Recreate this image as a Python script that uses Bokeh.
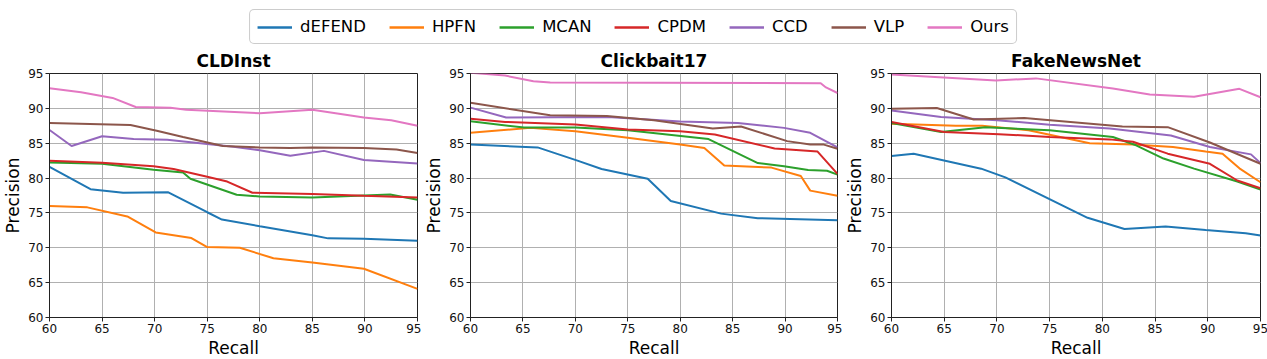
from bokeh.plotting import figure
from bokeh.layouts import column, row
from bokeh.models import Range1d, FixedTicker, Legend, LegendItem
from bokeh.embed import file_html
from bokeh.resources import INLINE

METHODS = ["dEFEND", "HPFN", "MCAN", "CPDM", "CCD", "VLP", "Ours"]
COLORS = ["#1f77b4", "#ff7f0e", "#2ca02c", "#d62728", "#9467bd", "#8c564b", "#e377c2"]
X_TICKS = [60, 65, 70, 75, 80, 85, 90, 95]
Y_TICKS = [60, 65, 70, 75, 80, 85, 90, 95]
TITLES = ["CLDInst", "Clickbait17", "FakeNewsNet"]

# ---- CLDInst ----
CLD_DEFEND_R = [60, 63.9, 67, 71.3, 75, 76.4, 80, 85, 86.5, 89.9, 95]
CLD_DEFEND_P = [81.6, 78.4, 77.9, 77.95, 75.1, 74.05, 73.1, 71.8, 71.35, 71.3, 71.0]
CLD_HPFN_R = [60, 63.6, 67.4, 70.1, 73.5, 75, 78.1, 81.3, 85, 89.9, 95]
CLD_HPFN_P = [76.0, 75.8, 74.5, 72.2, 71.4, 70.1, 70.0, 68.5, 67.9, 67.0, 64.1]
CLD_MCAN_R = [60, 65, 69.9, 72.7, 73.4, 77.8, 80, 85, 89.9, 92.4, 95]
CLD_MCAN_P = [82.25, 82.05, 81.2, 80.8, 79.9, 77.6, 77.35, 77.2, 77.5, 77.65, 76.9]
CLD_CPDM_R = [60, 65, 69.9, 71.8, 75, 76.9, 79.3, 85, 89.9, 95]
CLD_CPDM_P = [82.5, 82.2, 81.7, 81.3, 80.2, 79.5, 77.9, 77.7, 77.45, 77.2]
CLD_CCD_R = [60, 62.1, 65, 68, 71.2, 75, 77.5, 80, 82.9, 86.1, 89.9, 95]
CLD_CCD_P = [86.9, 84.6, 86.0, 85.6, 85.5, 84.9, 84.5, 84.0, 83.2, 83.9, 82.6, 82.1]
CLD_VLP_R = [60, 67.7, 70.2, 72.7, 76.5, 80, 82.9, 85, 89.9, 93, 95]
CLD_VLP_P = [87.9, 87.6, 86.8, 85.9, 84.6, 84.4, 84.3, 84.4, 84.3, 84.1, 83.6]
CLD_OURS_R = [60, 63, 66, 68.2, 71.5, 73, 80, 85, 89.9, 92.5, 95]
CLD_OURS_P = [92.9, 92.3, 91.5, 90.2, 90.1, 89.8, 89.3, 89.8, 88.7, 88.3, 87.5]

# ---- Clickbait17 ----
CB_DEFEND_R = [60, 66.4, 70.2, 72.5, 76.9, 79.1, 83.9, 87.4, 95]
CB_DEFEND_P = [84.8, 84.4, 82.5, 81.3, 79.9, 76.7, 74.9, 74.25, 73.95]
CB_HPFN_R = [60, 65.7, 70, 75, 80, 82.3, 84.2, 88.7, 91.5, 92.4, 95]
CB_HPFN_P = [86.5, 87.2, 86.7, 85.8, 84.8, 84.3, 81.8, 81.5, 80.3, 78.2, 77.45]
CB_MCAN_R = [60, 65.1, 70, 75, 82.7, 87.4, 89.9, 92.2, 94, 95]
CB_MCAN_P = [88.15, 87.25, 87.25, 86.85, 85.6, 82.15, 81.7, 81.15, 81.05, 80.5]
CB_CPDM_R = [60, 63.3, 70, 75, 80, 83.3, 89, 93.1, 95]
CB_CPDM_P = [88.5, 88.05, 87.7, 86.95, 86.7, 86.25, 84.25, 83.8, 80.6]
CB_CCD_R = [60, 63.4, 73.1, 80, 85.5, 89.9, 92.4, 95]
CB_CCD_P = [90.1, 88.7, 88.75, 88.1, 87.9, 87.2, 86.5, 84.4]
CB_VLP_R = [60, 67.6, 73, 77.5, 83.1, 85.8, 90.2, 92.4, 93.7, 95]
CB_VLP_P = [90.8, 89.0, 88.9, 88.3, 87.1, 87.4, 85.3, 84.8, 84.8, 84.2]
CB_OURS_R = [60, 63.3, 66, 67.6, 93.4, 93.9, 95]
CB_OURS_P = [95.1, 94.7, 93.9, 93.7, 93.6, 93.0, 92.2]

# ---- FakeNewsNet ----
FN_DEFEND_R = [60, 62.1, 68.5, 70.8, 78.6, 82.1, 86, 89.8, 93.6, 95]
FN_DEFEND_P = [83.15, 83.5, 81.35, 80.1, 74.3, 72.7, 73.05, 72.55, 72.1, 71.75]
FN_HPFN_R = [60, 66.1, 68.6, 73, 78.8, 82.9, 86.7, 89.8, 91.4, 93, 95]
FN_HPFN_P = [87.8, 87.5, 87.5, 86.85, 85.0, 84.8, 84.45, 83.8, 83.5, 81.4, 79.4]
FN_MCAN_R = [60, 64.7, 68.9, 75, 81, 83.2, 85.8, 88.7, 92.8, 95]
FN_MCAN_P = [87.9, 86.6, 87.3, 86.85, 85.9, 84.7, 82.8, 81.35, 79.5, 78.35]
FN_CPDM_R = [60, 65, 70.2, 75, 80.7, 82.9, 86.2, 90.2, 92.8, 95]
FN_CPDM_P = [88.05, 86.6, 86.3, 85.9, 85.55, 85.2, 83.5, 82.05, 79.65, 78.55]
FN_CCD_R = [60, 64.7, 70, 75, 80.7, 86.5, 90.2, 94.1, 95]
FN_CCD_P = [89.7, 88.75, 88.3, 87.65, 87.1, 86.1, 84.45, 83.4, 82.15]
FN_VLP_R = [60, 64.3, 67.8, 72.6, 81.9, 86.2, 90.2, 95]
FN_VLP_P = [89.95, 90.05, 88.4, 88.6, 87.4, 87.3, 85.1, 82.05]
FN_OURS_R = [60, 69.9, 73.7, 81, 84.5, 88.7, 93, 95]
FN_OURS_P = [94.85, 94.0, 94.3, 92.85, 92.0, 91.65, 92.8, 91.6]

DATASETS = [
    [(CLD_DEFEND_R, CLD_DEFEND_P), (CLD_HPFN_R, CLD_HPFN_P), (CLD_MCAN_R, CLD_MCAN_P),
     (CLD_CPDM_R, CLD_CPDM_P), (CLD_CCD_R, CLD_CCD_P), (CLD_VLP_R, CLD_VLP_P), (CLD_OURS_R, CLD_OURS_P)],
    [(CB_DEFEND_R, CB_DEFEND_P), (CB_HPFN_R, CB_HPFN_P), (CB_MCAN_R, CB_MCAN_P),
     (CB_CPDM_R, CB_CPDM_P), (CB_CCD_R, CB_CCD_P), (CB_VLP_R, CB_VLP_P), (CB_OURS_R, CB_OURS_P)],
    [(FN_DEFEND_R, FN_DEFEND_P), (FN_HPFN_R, FN_HPFN_P), (FN_MCAN_R, FN_MCAN_P),
     (FN_CPDM_R, FN_CPDM_P), (FN_CCD_R, FN_CCD_P), (FN_VLP_R, FN_VLP_P), (FN_OURS_R, FN_OURS_P)],
]

FONT = "DejaVu Sans"
# (left border, frame width, right border) per panel
BORDERS = [(49, 368, 4), (49, 367, 5), (47, 369, 8)]


def make_panel(title, series, lb, fw, rb):
    p = figure(frame_width=fw, frame_height=244,
               x_range=Range1d(60, 95), y_range=Range1d(60, 95),
               toolbar_location=None, output_backend="svg",
               min_border_left=lb, min_border_right=rb,
               min_border_top=29, min_border_bottom=42)
    p.title.text = title
    p.title.align = "center"
    p.title.text_font = FONT
    p.title.text_font_style = "bold"
    p.title.text_font_size = "17px"
    p.title.text_color = "black"
    p.title.standoff = 6
    for (r, pr), c in zip(series, COLORS):
        p.line(r, pr, line_color=c, line_width=2)
    p.xaxis.ticker = FixedTicker(ticks=X_TICKS)
    p.yaxis.ticker = FixedTicker(ticks=Y_TICKS)
    p.xaxis.axis_label = "Recall"
    p.yaxis.axis_label = "Precision"
    for ax in (p.xaxis[0], p.yaxis[0]):
        ax.axis_label_text_font = FONT
        ax.axis_label_text_font_size = "17px"
        ax.axis_label_text_font_style = "normal"
        ax.axis_label_text_color = "black"
        ax.axis_label_standoff = 2
        ax.major_label_text_font = FONT
        ax.major_label_text_font_size = "12px"
        ax.major_label_text_color = "#111111"
        ax.major_label_standoff = 2
        ax.major_tick_out = 4
        ax.major_tick_in = 0
        ax.minor_tick_out = 0
        ax.minor_tick_in = 0
        ax.axis_line_color = "#222222"
        ax.major_tick_line_color = "#222222"
    p.xgrid.grid_line_color = "#b0b0b0"
    p.ygrid.grid_line_color = "#b0b0b0"
    p.xgrid.grid_line_width = 1
    p.ygrid.grid_line_width = 1
    p.outline_line_color = "#222222"
    p.outline_line_width = 1
    p.outline_line_alpha = 1
    return p


panels = [make_panel(t, s, *b) for t, s, b in zip(TITLES, DATASETS, BORDERS)]
total_w = sum(lb + fw + rb for lb, fw, rb in BORDERS)

# legend strip (lines drawn from CLDInst data, outside the visible range)
lf = figure(width=total_w, height=44, x_range=Range1d(0, 1), y_range=Range1d(0, 1),
            toolbar_location=None, output_backend="svg",
            min_border_left=0, min_border_right=0, min_border_top=0, min_border_bottom=0)
lf.axis.visible = False
lf.grid.visible = False
lf.outline_line_color = None
items = []
for name, (r, pr), c in zip(METHODS, DATASETS[0], COLORS):
    rr = lf.line(r, pr, line_color=c, line_width=2.5)
    items.append(LegendItem(label=name, renderers=[rr]))
legend = Legend(items=items, orientation="horizontal", location="top_center",
                label_text_font=FONT, label_text_font_size="16.5px", label_text_color="black",
                glyph_width=35, glyph_height=18, label_standoff=8, spacing=23,
                padding=7, margin=9, label_height=18,
                border_line_color="#999999", border_line_width=1.2,
                background_fill_color="white", background_fill_alpha=1)
if "border_radius" in Legend.properties():
    legend.border_radius = 5
lf.add_layout(legend, "center")

layout = column(lf, row(*panels))
open("out.html", "w").write(file_html(layout, INLINE))
